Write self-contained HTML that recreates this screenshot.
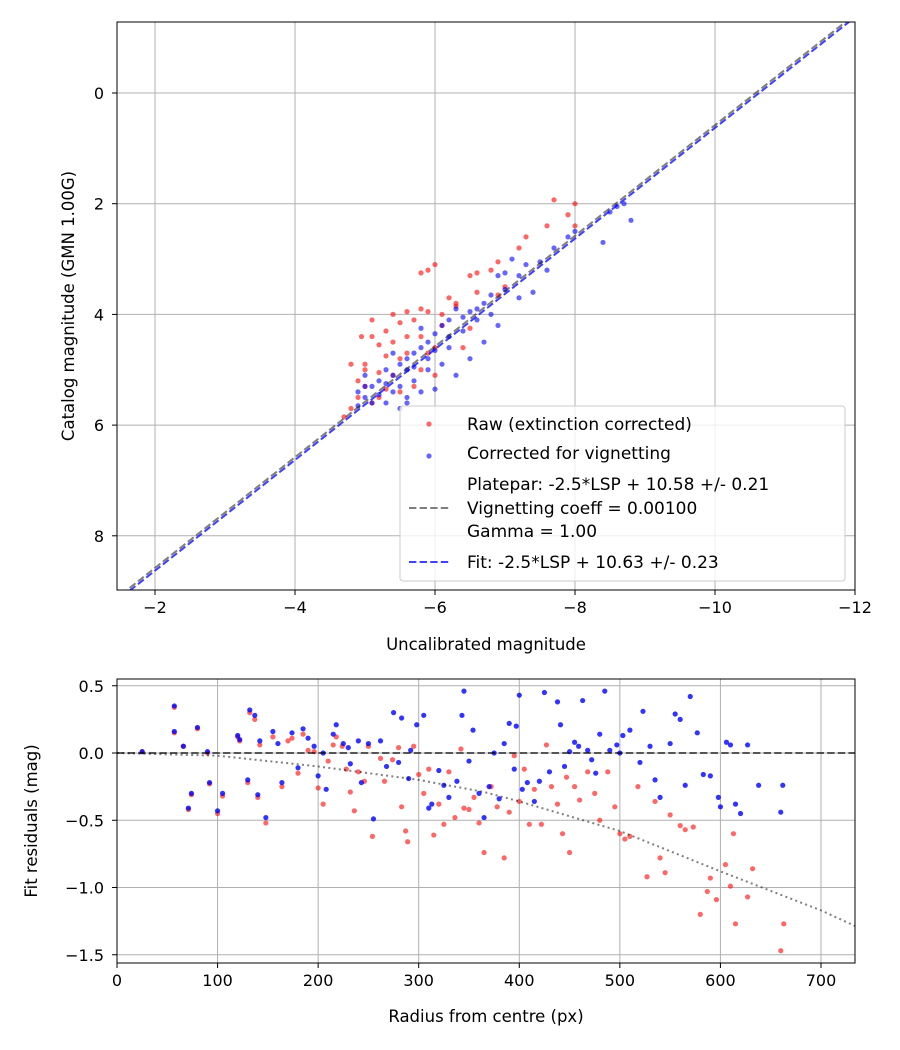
<!DOCTYPE html>
<html><head><meta charset="utf-8"><style>
body{margin:0;background:#fff;}
svg{display:block;font-family:"DejaVu Sans","Liberation Sans",sans-serif;}
</style></head><body>
<svg id="fig" width="900" height="1050" viewBox="0 0 900 1050" xmlns="http://www.w3.org/2000/svg">
<defs>
<clipPath id="c1"><rect x="117" y="22" width="738" height="568"/></clipPath>
<clipPath id="c2"><rect x="117" y="679" width="738" height="284"/></clipPath>
</defs>
<g id="topPlot"></g>
<g id="botPlot"></g>
</svg>
<script>
// ---- Top chart data ----
const topXTicks = [-2, -4, -6, -8, -10, -12];
const topYTicks = [0, 2, 4, 6, 8];
const rawX = [-7.7,-8.0,-7.9,-7.6,-8.0,-7.3,-7.2,-6.9,-6.6,-6.5,-6.8,-6.0,-5.9,-5.8,-5.6,-5.8,-6.1,-6.3,-5.5,-5.3,-5.1,-5.1,-5.0,-4.8,-5.2,-5.4,-5.6,-5.8,-5.9,-6.1,-6.4,-5.3,-5.5,-5.6,-4.9,-5.0,-5.2,-5.4,-4.9,-4.8,-4.7,-5.1,-5.3,-5.7,-5.8,-6.0,-6.2,-6.3,-6.5,-6.9,-7.0,-5.7,-5.4,-5.0,-5.2,-4.95,-5.5,-6.0,-5.9,-6.6];
const rawY = [1.93,2.0,2.2,2.4,2.4,2.6,2.8,3.05,3.25,3.3,3.2,3.1,3.2,3.25,3.95,3.9,4.0,3.85,4.15,4.3,4.1,4.4,4.9,4.9,4.55,4.5,4.4,4.4,4.7,4.2,4.6,4.75,4.8,4.7,5.2,5.3,5.05,5.1,5.5,5.7,5.85,5.6,5.35,5.3,5.0,4.6,3.7,3.8,4.25,3.65,3.5,4.1,4.0,5.0,5.5,4.4,5.4,5.1,3.95,3.6];
const corX = [-8.8,-8.6,-8.5,-8.4,-8.7,-8.0,-7.9,-7.7,-7.6,-7.5,-7.3,-7.2,-7.1,-7.0,-7.0,-6.9,-6.8,-6.7,-6.6,-6.6,-6.5,-6.4,-6.4,-6.3,-6.2,-6.2,-6.1,-6.0,-6.0,-5.9,-5.9,-5.8,-5.8,-5.7,-5.7,-5.6,-5.6,-5.5,-5.5,-5.4,-5.4,-5.3,-5.3,-5.2,-5.2,-5.1,-5.1,-5.0,-5.0,-4.9,-5.6,-5.7,-6.1,-6.3,-6.0,-5.4,-6.5,-6.2,-5.9,-5.6,-5.8,-6.7,-7.2,-7.4,-6.9,-6.8,-5.0,-4.9,-5.3,-5.5];
const corY = [2.3,2.05,2.15,2.7,2.0,2.5,2.6,2.8,3.2,3.05,3.1,3.3,3.0,3.25,3.55,3.3,3.65,3.8,3.9,4.1,3.95,4.05,4.3,3.9,4.1,4.4,4.2,4.35,4.65,4.5,4.8,4.6,4.25,4.7,4.95,4.8,5.0,4.9,5.3,5.1,5.4,5.0,5.25,5.45,5.2,5.3,5.6,5.5,5.3,5.65,5.6,5.2,4.9,5.1,5.35,4.7,4.8,4.6,5.0,5.5,5.4,4.5,3.7,3.6,4.2,4.0,5.1,5.4,5.6,5.7];
const platepar = 10.58;
const fitZp = 10.63;

// ---- Bottom chart data ----
const botXTicks = [0,100,200,300,400,500,600,700];
const botYTicks = [0.5,0.0,-0.5,-1.0,-1.5];
const rawR = [25,57,57,66,71,74,80,90,92,100,105,120,122,130,132,137,140,142,148,155,164,170,174,180,185,190,196,200,205,210,215,218,224,228,232,236,240,246,250,254,262,266,274,280,283,287,289,295,300,305,310,315,320,325,330,336,342,345,350,355,360,365,372,378,385,390,395,400,405,410,415,422,427,432,438,443,447,450,455,460,468,475,480,488,495,500,505,510,518,527,535,540,545,550,560,565,573,580,587,590,596,605,610,613,615,627,632,660,663];
const rawRes = [0.01,0.34,0.15,0.05,-0.42,-0.31,0.18,0.0,-0.23,-0.45,-0.32,0.12,0.09,-0.22,0.30,0.25,-0.33,0.06,-0.52,0.12,-0.25,0.09,0.11,-0.15,0.14,0.02,0.01,-0.26,-0.38,-0.06,0.06,0.12,0.05,-0.12,-0.29,-0.43,-0.14,-0.21,0.05,-0.62,-0.04,-0.21,-0.05,0.04,-0.4,-0.58,-0.66,0.05,-0.16,-0.3,-0.12,-0.61,-0.38,-0.53,-0.14,-0.48,0.03,-0.41,-0.42,-0.33,-0.52,-0.74,-0.25,-0.4,-0.78,-0.44,-0.02,-0.36,-0.12,-0.53,-0.27,-0.53,0.06,-0.25,-0.38,-0.6,-0.18,-0.74,-0.25,-0.35,-0.14,-0.3,-0.5,-0.14,-0.4,-0.6,-0.64,-0.62,-0.25,-0.92,-0.36,-0.78,-0.89,-0.46,-0.54,-0.57,-0.55,-1.2,-1.03,-0.93,-1.09,-0.83,-0.99,-0.6,-1.27,-1.07,-0.86,-1.47,-1.27];
const corR = [25,57,57,66,71,74,80,90,92,100,105,120,122,130,132,137,140,142,148,155,160,164,174,180,185,190,196,200,205,208,215,218,225,230,232,240,243,250,255,262,268,275,280,283,290,292,298,305,310,313,320,325,330,338,343,345,350,354,360,365,370,375,380,385,390,395,397,400,403,408,415,420,425,430,438,441,445,450,455,459,463,468,472,476,480,485,490,497,500,503,510,520,523,530,535,540,550,555,560,565,570,577,583,590,598,600,606,610,615,620,627,638,660,662];
const corRes = [0.01,0.35,0.16,0.05,-0.41,-0.30,0.19,0.01,-0.22,-0.43,-0.3,0.13,0.1,-0.2,0.32,0.28,-0.31,0.09,-0.48,0.16,0.07,-0.22,0.15,-0.11,0.18,0.11,0.05,-0.17,0.0,-0.27,0.14,0.21,0.07,0.04,-0.08,0.09,-0.22,0.07,-0.49,0.09,-0.1,0.3,-0.07,0.26,-0.19,0.02,0.21,0.28,-0.41,-0.38,-0.13,-0.24,-0.33,-0.21,0.28,0.46,-0.06,0.17,-0.3,-0.48,-0.25,0.0,-0.34,0.07,0.22,-0.12,0.2,0.43,-0.27,-0.22,-0.36,-0.21,0.45,-0.14,0.38,0.21,-0.1,0.01,0.08,0.05,0.39,0.02,-0.05,-0.15,0.14,0.46,0.02,0.06,0.0,0.13,0.17,-0.07,0.31,0.05,-0.2,-0.33,0.07,0.29,0.25,-0.24,0.42,0.15,-0.16,-0.17,-0.33,-0.4,0.08,0.06,-0.38,-0.45,0.06,-0.24,-0.44,-0.24];
const vigR = [0,100,200,300,365,400,500,600,700,735];
const vigRes = [0,-0.02,-0.1,-0.2,-0.29,-0.36,-0.58,-0.88,-1.17,-1.29];

const NS = "http://www.w3.org/2000/svg";
function mk(parent, tag, attrs){const e=document.createElementNS(NS,tag);for(const k in attrs)e.setAttribute(k,attrs[k]);parent.appendChild(e);return e;}

const tx = v => 155 + (-v - 2) * 70;
const ty = v => 93 + v * 55.35;
const bx = v => 117 + v * 1.0057;
const by = v => 753 - v * 134.5;

const topG = document.getElementById('topPlot');
const botG = document.getElementById('botPlot');

topXTicks.forEach(t => {
  const g = mk(topG,'line',{x1:tx(t),x2:tx(t),y1:22,y2:590,stroke:'#b0b0b0','stroke-width':1});
  
  
  mk(topG,'line',{x1:tx(t),x2:tx(t),y1:590,y2:595,stroke:'#000'});
  const l = mk(topG,'text',{x:tx(t),y:613,'text-anchor':'middle','font-size':16});
  l.textContent = t < 0 ? '\u2212' + (-t) : String(t);
  
  
});
topYTicks.forEach(t => {
  const g = mk(topG,'line',{x1:117,x2:855,y1:ty(t),y2:ty(t),stroke:'#b0b0b0','stroke-width':1});
  
  
  mk(topG,'line',{x1:112,x2:117,y1:ty(t),y2:ty(t),stroke:'#000'});
  const l = mk(topG,'text',{x:104,y:ty(t)+6,'text-anchor':'end','font-size':16});
  l.textContent = String(t);
  
  
});
const tp = mk(topG,'g',{'clip-path':'url(#c1)'});
rawX.forEach((x,i) => {
  const c = mk(tp,'circle',{cx:tx(x),cy:ty(rawY[i]),r:2.6,fill:'red','fill-opacity':0.6});
  
  
});
corX.forEach((x,i) => {
  const c = mk(tp,'circle',{cx:tx(x),cy:ty(corY[i]),r:2.6,fill:'blue','fill-opacity':0.6});
  
  
});
const pl = mk(tp,'line',{x1:tx(-1.4),y1:ty(-1.4+platepar),x2:tx(-12.2),y2:ty(-12.2+platepar),stroke:'#000','stroke-opacity':0.5,'stroke-width':2,'stroke-dasharray':'7.4,3.2'});


const fl = mk(tp,'line',{x1:tx(-1.4),y1:ty(-1.4+fitZp),x2:tx(-12.2),y2:ty(-12.2+fitZp),stroke:'blue','stroke-opacity':0.75,'stroke-width':2,'stroke-dasharray':'7.4,3.2'});


mk(topG,'rect',{x:117,y:22,width:738,height:568,fill:'none',stroke:'#000','stroke-width':1});
let t1 = mk(topG,'text',{x:486,y:650,'text-anchor':'middle','font-size':16.5});
t1.textContent='Uncalibrated magnitude';


let t2 = mk(topG,'text',{x:0,y:0,'text-anchor':'middle','font-size':16.5,transform:'translate(74,306) rotate(-90)'});
t2.textContent='Catalog magnitude (GMN 1.00G)';



const lg = mk(topG,'g',{});


mk(lg,'rect',{x:400,y:406,width:445,height:175,rx:3,fill:'#fff','fill-opacity':0.8,stroke:'#ccc'});
mk(lg,'circle',{cx:429,cy:424,r:2.6,fill:'red','fill-opacity':0.6});
mk(lg,'circle',{cx:429,cy:456,r:2.6,fill:'blue','fill-opacity':0.6});
mk(lg,'line',{x1:409,x2:451,y1:508,y2:508,stroke:'#000','stroke-opacity':0.5,'stroke-width':2,'stroke-dasharray':'7.4,3.2'});
mk(lg,'line',{x1:409,x2:451,y1:562,y2:562,stroke:'blue','stroke-opacity':0.75,'stroke-width':2,'stroke-dasharray':'7.4,3.2'});
[['Raw (extinction corrected)',430],['Corrected for vignetting',459],['Platepar: -2.5*LSP + 10.58 +/- 0.21',490],['Vignetting coeff = 0.00100',514],['Gamma = 1.00',537],['Fit: -2.5*LSP + 10.63 +/- 0.23',568]].forEach(([s,y]) => {
  const e = mk(lg,'text',{x:467,y:y,'font-size':17});
  e.textContent = s;
  
  
});

botXTicks.forEach(t => {
  const g = mk(botG,'line',{x1:bx(t),x2:bx(t),y1:679,y2:963,stroke:'#b0b0b0','stroke-width':1});
  
  
  mk(botG,'line',{x1:bx(t),x2:bx(t),y1:963,y2:968,stroke:'#000'});
  const l = mk(botG,'text',{x:bx(t),y:986,'text-anchor':'middle','font-size':16});
  l.textContent = String(t);
  
  
});
botYTicks.forEach(t => {
  const g = mk(botG,'line',{x1:117,x2:855,y1:by(t),y2:by(t),stroke:'#b0b0b0','stroke-width':1});
  
  
  mk(botG,'line',{x1:112,x2:117,y1:by(t),y2:by(t),stroke:'#000'});
  const l = mk(botG,'text',{x:104,y:by(t)+6,'text-anchor':'end','font-size':16});
  l.textContent = (t < 0 ? '\u2212' : '') + Math.abs(t).toFixed(1);
  
  
});
const bp = mk(botG,'g',{'clip-path':'url(#c2)'});
rawR.forEach((r,i) => {
  const c = mk(bp,'circle',{cx:bx(r),cy:by(rawRes[i]),r:2.6,fill:'red','fill-opacity':0.6});
  
  
});
corR.forEach((r,i) => {
  const c = mk(bp,'circle',{cx:bx(r),cy:by(corRes[i]),r:2.6,fill:'blue','fill-opacity':0.8});
  
  
});
const zl = mk(bp,'line',{x1:bx(0),x2:bx(735),y1:by(0),y2:by(0),stroke:'#000','stroke-opacity':0.6,'stroke-width':2,'stroke-dasharray':'7.4,3.2'});


const vp = mk(bp,'polyline',{points:vigR.map((r,i)=>bx(r)+','+by(vigRes[i])).join(' '),fill:'none',stroke:'#000','stroke-opacity':0.5,'stroke-width':2,'stroke-dasharray':'2,3.3'});


mk(botG,'rect',{x:117,y:679,width:738,height:284,fill:'none',stroke:'#000','stroke-width':1});
let t3 = mk(botG,'text',{x:486,y:1022,'text-anchor':'middle','font-size':16.5});
t3.textContent='Radius from centre (px)';


let t4 = mk(botG,'text',{x:0,y:0,'text-anchor':'middle','font-size':16.5,transform:'translate(37,821) rotate(-90)'});
t4.textContent='Fit residuals (mag)';


</script>
</body></html>
